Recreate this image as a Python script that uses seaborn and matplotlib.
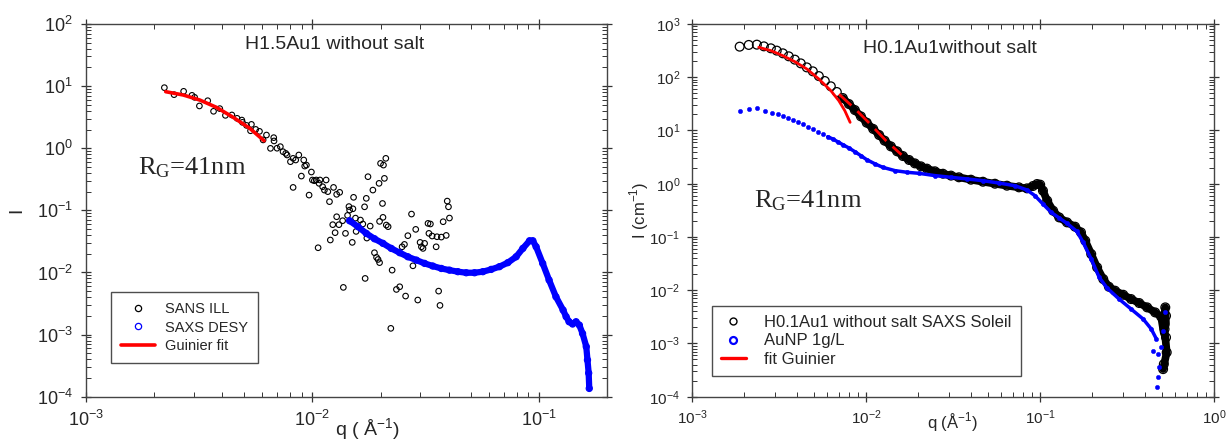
import numpy as np
import pandas as pd
import matplotlib
matplotlib.use("Agg")
import matplotlib.pyplot as plt
import seaborn as sns
from matplotlib.lines import Line2D
from matplotlib.ticker import LogLocator, NullFormatter

# ---- left panel: H1.5Au1 without salt ----
sans_q = [2.22e-3, 2.45e-3, 2.70e-3, 2.94e-3, 3.02e-3, 3.17e-3, 3.45e-3, 3.66e-3, 3.90e-3, 4.13e-3,
          4.41e-3, 4.65e-3, 4.88e-3, 4.91e-3, 5.12e-3, 5.33e-3, 5.38e-3, 5.62e-3, 5.84e-3, 6.06e-3,
          6.27e-3, 6.53e-3, 6.75e-3, 6.77e-3, 6.98e-3, 7.22e-3, 7.42e-3, 7.63e-3, 7.73e-3, 8.00e-3,
          8.22e-3, 8.22e-3, 8.44e-3, 8.71e-3, 8.94e-3, 9.16e-3, 9.25e-3, 9.41e-3, 9.67e-3, 9.90e-3,
          1.00e-2, 1.02e-2, 1.04e-2, 1.07e-2, 1.08e-2, 1.11e-2, 1.13e-2, 1.15e-2, 1.17e-2, 1.19e-2,
          1.24e-2, 1.28e-2, 1.32e-2, 1.20e-2, 1.23e-2, 1.26e-2, 1.28e-2, 1.31e-2, 1.36e-2, 1.37e-2,
          1.40e-2, 1.43e-2, 1.46e-2, 1.50e-2, 1.51e-2, 1.52e-2, 1.56e-2, 1.63e-2, 1.67e-2, 1.70e-2,
          1.71e-2, 1.73e-2, 1.74e-2, 1.76e-2, 1.80e-2, 1.85e-2, 1.88e-2, 1.92e-2, 1.97e-2, 1.98e-2,
          2.00e-2, 2.04e-2, 2.05e-2, 2.06e-2, 2.08e-2, 2.11e-2, 2.12e-2, 2.16e-2, 2.22e-2, 2.25e-2,
          2.35e-2, 2.43e-2, 2.49e-2, 2.55e-2, 2.58e-2, 2.64e-2, 2.74e-2, 2.78e-2, 2.86e-2, 2.92e-2,
          2.99e-2, 3.03e-2, 3.08e-2, 3.13e-2, 3.24e-2, 3.27e-2, 3.32e-2, 3.38e-2, 3.52e-2, 3.55e-2,
          3.61e-2, 3.66e-2, 3.71e-2, 3.78e-2, 3.90e-2, 3.94e-2, 3.99e-2, 4.03e-2, 1.06e-2, 1.95e-2,
          1.98e-2, 1.45e-2, 1.55e-2]
sans_i = [9.44, 7.28, 8.24, 7.10, 6.59, 4.79, 5.82, 3.93, 4.34, 3.38,
          3.43, 3.03, 2.84, 2.61, 2.33, 1.91, 2.42, 2.01, 1.87, 1.36,
          1.63, 0.995, 1.48, 1.31, 1.00, 1.06, 0.879, 0.826, 0.778, 0.607,
          0.234, 0.687, 0.646, 0.778, 0.356, 0.646, 0.516, 0.535, 0.176, 0.414,
          0.308, 0.300, 0.308, 0.272, 0.308, 0.240, 0.212, 0.308, 0.200, 0.138,
          0.234, 0.181, 0.195, 0.0333, 0.0588, 0.0437, 0.0789, 0.0588, 0.0681, 0.00575,
          0.0426, 0.0830, 0.101, 0.0305, 0.106, 0.162, 0.0458, 0.0698, 0.0603, 0.114,
          0.00802, 0.156, 0.0358, 0.348, 0.0558, 0.212, 0.0208, 0.0175, 0.272, 0.0664,
          0.570, 0.129, 0.0771, 0.535, 0.327, 0.687, 0.0580, 0.0546, 0.00126, 0.0109,
          0.00533, 0.00589, 0.0259, 0.0283, 0.00417, 0.0391, 0.0871, 0.0128, 0.0494, 0.0036,
          0.0305, 0.0259, 0.0244, 0.0294, 0.0617, 0.0426, 0.0603, 0.0386, 0.0259, 0.0376,
          0.00501, 0.00295, 0.0371, 0.0656, 0.0395, 0.141, 0.114, 0.0752, 0.025, 0.0162,
          0.0144, 0.115, 0.075]

desy_q = [1.46e-2, 1.59e-2, 1.73e-2, 1.88e-2, 2.05e-2, 2.23e-2, 2.43e-2, 2.64e-2, 2.88e-2, 3.13e-2,
          3.40e-2, 3.71e-2, 4.03e-2, 4.39e-2, 4.78e-2, 5.20e-2, 5.66e-2, 6.16e-2, 6.70e-2, 7.30e-2,
          7.94e-2, 8.50e-2, 9.10e-2, 9.41e-2, 9.73e-2, 0.104, 0.111, 0.119, 0.128, 0.132,
          0.136, 0.141, 0.146, 0.151, 0.156, 0.162, 0.164, 0.166, 0.167]
desy_i = [0.068, 0.0545, 0.0426, 0.0349, 0.0294, 0.0244, 0.0208, 0.0179, 0.0158, 0.0140,
          0.0127, 0.0116, 0.0109, 0.0103, 0.0099, 0.0099, 0.0103, 0.0112, 0.0124, 0.0144,
          0.0179, 0.0244, 0.0324, 0.0324, 0.0259, 0.0140, 0.00755, 0.00406, 0.00248, 0.00194,
          0.00161, 0.00148, 0.00161, 0.00142, 0.00104, 0.00064, 0.00039, 0.00024, 0.000136]

fit1_q = [2.25e-3, 2.69e-3, 3.18e-3, 3.77e-3, 4.47e-3, 5.29e-3, 6.12e-3]
fit1_i = [8.13, 7.19, 5.97, 4.55, 3.14, 2.09, 1.32]

# ---- right panel: H0.1Au1 without salt ----
soleil_q = [1.88e-3, 2.12e-3, 2.36e-3, 2.59e-3, 2.84e-3, 3.07e-3, 3.33e-3, 3.60e-3, 3.90e-3, 4.22e-3,
            4.57e-3, 4.95e-3, 5.36e-3, 5.80e-3, 6.28e-3, 6.80e-3, 7.36e-3, 7.98e-3, 8.63e-3, 9.35e-3,
            1.01e-2, 1.10e-2, 1.19e-2, 1.28e-2, 1.39e-2, 1.51e-2, 1.63e-2, 1.77e-2, 1.91e-2, 2.07e-2,
            2.24e-2, 2.49e-2, 2.77e-2, 3.08e-2, 3.42e-2, 4.01e-2, 4.70e-2, 5.51e-2, 6.46e-2, 7.57e-2,
            8.42e-2, 9.12e-2, 9.62e-2, 0.1003, 0.104, 0.110, 0.119, 0.129, 0.143, 0.159,
            0.172, 0.182, 0.197, 0.213, 0.231, 0.249, 0.270, 0.301, 0.334, 0.372,
            0.413, 0.459, 0.497, 0.515, 0.525, 0.530, 0.520, 0.530, 0.535, 0.515, 0.510]
soleil_i = [375, 404, 409, 380, 349, 316, 281, 247, 214, 182,
            153, 129, 105, 84.9, 67.5, 52.8, 40.7, 31.4, 24.2, 18.4,
            14.0, 10.7, 8.22, 6.43, 5.03, 4.06, 3.31, 2.79, 2.41, 2.12,
            1.92, 1.71, 1.54, 1.42, 1.32, 1.19, 1.09, 1.00, 0.918, 0.855,
            0.818, 0.906, 0.987, 0.96, 0.740, 0.480, 0.311, 0.233, 0.188, 0.156,
            0.122, 0.0851, 0.0478, 0.0268, 0.0162, 0.0116, 0.0098, 0.00822, 0.00682, 0.00574,
            0.00476, 0.00383, 0.00318, 0.00267, 0.00476, 0.0033, 0.00186, 0.0013, 0.00068, 0.00041, 0.00033]

aunp_q = [1.89e-3, 2.12e-3, 2.38e-3, 2.62e-3, 2.87e-3, 3.11e-3, 3.33e-3, 3.56e-3, 3.82e-3, 4.07e-3,
          4.34e-3, 4.62e-3, 4.95e-3, 5.31e-3, 5.65e-3, 6.03e-3, 6.45e-3, 6.92e-3, 7.36e-3, 7.98e-3,
          8.63e-3, 9.35e-3, 1.01e-2, 1.13e-2, 1.25e-2, 1.47e-2, 1.72e-2, 2.01e-2, 2.49e-2, 3.08e-2,
          3.80e-2, 4.70e-2, 5.81e-2, 7.18e-2, 8.42e-2, 9.36e-2, 0.104, 0.116, 0.129, 0.143,
          0.163, 0.177, 0.197, 0.219, 0.243, 0.285, 0.334, 0.392, 0.436, 0.467,
          0.479, 0.497, 0.510, 0.524, 0.447, 0.485, 0.477, 0.471]
aunp_i = [22.9, 25.3, 26.1, 23.5, 21.6, 20.1, 18.7, 17.1, 15.7, 14.4,
          13.0, 11.8, 10.7, 9.49, 8.59, 7.64, 6.91, 6.07, 5.41, 4.69,
          4.00, 3.36, 2.83, 2.35, 2.03, 1.76, 1.64, 1.57, 1.42, 1.32,
          1.23, 1.14, 1.03, 0.918, 0.762, 0.596, 0.416, 0.290, 0.227, 0.180,
          0.127, 0.0793, 0.0385, 0.0174, 0.0110, 0.00682, 0.00443, 0.00287, 0.00187, 0.00121,
          0.00063, 0.00084, 0.00173, 0.00383, 0.00073, 0.000355, 0.00023, 0.00015]

fit2_q = [2.42e-3, 2.84e-3, 3.33e-3, 3.90e-3, 4.57e-3, 5.36e-3, 6.28e-3, 6.98e-3, 7.56e-3, 8.11e-3]
fit2_i = [365, 316, 254, 196, 143, 92.7, 56.0, 36.3, 23.5, 14.2]
dash2_q = [7.0e-3, 8.6e-3, 1.05e-2, 1.3e-2, 1.6e-2]
dash2_i = [48, 26, 13.5, 6.5, 3.5]

sans = pd.DataFrame({"q": sans_q, "I": sans_i})
desy = pd.DataFrame({"q": desy_q, "I": desy_i})
fit1 = pd.DataFrame({"q": fit1_q, "I": fit1_i})
soleil = pd.DataFrame({"q": soleil_q, "I": soleil_i})
aunp = pd.DataFrame({"q": aunp_q, "I": aunp_i})
fit2 = pd.DataFrame({"q": fit2_q, "I": fit2_i})
dash2 = pd.DataFrame({"q": dash2_q, "I": dash2_i})

sns.set_style("ticks")
plt.rcParams["font.family"] = ["Liberation Sans", "DejaVu Sans"]
plt.rcParams["axes.edgecolor"] = "#444444"

BLUE = "#0000ff"
RED = "#ff0000"

fig = plt.figure(figsize=(12.26, 4.44), dpi=100)
ax1 = fig.add_axes([0.0701, 0.1065, 0.425, 0.8395])
ax2 = fig.add_axes([0.5644, 0.1065, 0.4258, 0.8395])


def style_axes(ax, xdec, ydec, xlim, ylim, tsize, pad):
    ax.set_xscale("log")
    ax.set_yscale("log")
    ax.set_xticks([10.0 ** k for k in xdec])
    ax.set_yticks([10.0 ** k for k in ydec])
    ax.set_xlim(*xlim)
    ax.set_ylim(*ylim)
    for a in (ax.xaxis, ax.yaxis):
        a.set_minor_locator(LogLocator(base=10, subs=np.arange(2, 10), numticks=20))
        a.set_minor_formatter(NullFormatter())
    ax.tick_params(which="major", direction="inout", length=7, width=0.9,
                   top=True, right=True, labelsize=tsize, pad=pad, color="#333333")
    ax.tick_params(which="minor", direction="in", length=3.5, width=0.7,
                   top=True, right=True, color="#333333")
    for s in ax.spines.values():
        s.set_linewidth(1.0)


# left panel
sns.scatterplot(data=sans, x="q", y="I", ax=ax1, marker="o", s=16,
                facecolor="none", edgecolor="black", linewidth=0.8, zorder=2)
sns.lineplot(data=desy, x="q", y="I", ax=ax1, sort=False, color=BLUE, lw=4.5, zorder=3)
sns.scatterplot(data=desy, x="q", y="I", ax=ax1, marker="o", s=20,
                facecolor="none", edgecolor=BLUE, linewidth=0.8, zorder=3)
sns.lineplot(data=fit1, x="q", y="I", ax=ax1, sort=False, color=RED, lw=2.6, zorder=4)
style_axes(ax1, range(-3, 0), range(-4, 3), (1e-3, 0.2), (1e-4, 1e2), 13, 6)
ax1.set_xlabel("q ( Å$^{\\mathregular{-1}}$)", fontsize=14)
ax1.set_ylabel("I", fontsize=14, rotation=90)
ax1.xaxis.set_label_coords(0.54, -0.052)
ax1.yaxis.set_label_coords(-0.117, 0.5)
ax1.text(0.478, 0.946, "H1.5Au1 without salt", transform=ax1.transAxes,
         ha="center", va="center", fontsize=14)
ax1.text(0.10, 0.614, "$\\mathregular{R_G}$=41nm", transform=ax1.transAxes,
         ha="left", va="center", fontsize=19, family=["Liberation Serif"])
h1 = [Line2D([], [], ls="none", marker="o", ms=4.5, mfc="none", mec="black", mew=0.9),
      Line2D([], [], ls="none", marker="o", ms=4.5, mfc="none", mec=BLUE, mew=0.9),
      Line2D([], [], color=RED, lw=2.6)]
leg1 = ax1.legend(h1, ["SANS ILL", "SAXS DESY", "Guinier fit"], loc="lower left",
                  bbox_to_anchor=(0.048, 0.09), borderaxespad=0, fontsize=10.5,
                  handlelength=2.3, handletextpad=0.7, labelspacing=0.3,
                  borderpad=0.7, fancybox=False, frameon=True)
leg1.get_frame().set_edgecolor("#222222")
leg1.get_frame().set_linewidth(1.0)

# right panel
sns.lineplot(data=soleil[soleil["q"] > 7e-3], x="q", y="I", ax=ax2, sort=False,
             color="black", lw=5.5, zorder=2)
sns.scatterplot(data=soleil, x="q", y="I", ax=ax2, marker="o", s=40,
                facecolor="none", edgecolor="black", linewidth=0.9, zorder=2)
sns.lineplot(data=aunp.iloc[15:50], x="q", y="I", ax=ax2, sort=False,
             color=BLUE, lw=2.5, zorder=3)
sns.scatterplot(data=aunp, x="q", y="I", ax=ax2, marker="o", s=10,
                color=BLUE, edgecolor=BLUE, linewidth=0.3, zorder=3)
sns.lineplot(data=fit2, x="q", y="I", ax=ax2, sort=False, color=RED, lw=2.0, zorder=4)
sns.lineplot(data=dash2, x="q", y="I", ax=ax2, sort=False, color=RED, lw=2.0,
             dashes=False, zorder=4)
ax2.lines[-1].set_dashes([6, 3])
style_axes(ax2, range(-3, 1), range(-4, 4), (1e-3, 1.0), (1e-4, 1e3), 11, 5)
ax2.set_xlabel("q (Å$^{\\mathregular{-1}}$)", fontsize=12)
ax2.set_ylabel("I (cm$^{\\mathregular{-1}}$)", fontsize=12)
ax2.xaxis.set_label_coords(0.5, -0.036)
ax2.yaxis.set_label_coords(-0.078, 0.5)
ax2.text(0.494, 0.933, "H0.1Au1without salt", transform=ax2.transAxes,
         ha="center", va="center", fontsize=14)
ax2.text(0.119, 0.525, "$\\mathregular{R_G}$=41nm", transform=ax2.transAxes,
         ha="left", va="center", fontsize=19, family=["Liberation Serif"])
h2 = [Line2D([], [], ls="none", marker="o", ms=5, mfc="none", mec="black", mew=1.0),
      Line2D([], [], ls="none", marker="o", ms=5, mfc="none", mec=BLUE, mew=1.6),
      Line2D([], [], color=RED, lw=2.4)]
leg2 = ax2.legend(h2, ["H0.1Au1 without salt SAXS Soleil", "AuNP 1g/L", "fit Guinier"],
                  loc="lower left", bbox_to_anchor=(0.038, 0.056), borderaxespad=0,
                  fontsize=12, handlelength=1.5, handletextpad=1.1, labelspacing=0.2,
                  borderpad=0.55, fancybox=False, frameon=True)
leg2.get_frame().set_edgecolor("#222222")
leg2.get_frame().set_linewidth(1.0)

fig.savefig("out.png", dpi=100)
